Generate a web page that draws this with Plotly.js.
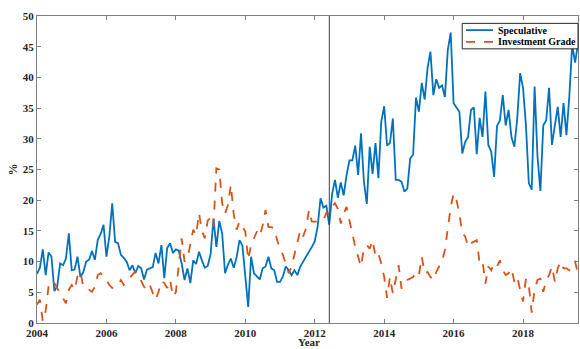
<!DOCTYPE html>
<html>
<head>
<meta charset="utf-8">
<script src="https://cdn.plot.ly/plotly-3.0.1.min.js"></script>
<style>
html,body{margin:0;padding:0;background:#fff;}
#chart{width:580px;height:349px;}
</style>
</head>
<body>
<div id="chart"></div>
<script>
// Monthly observations, Jan 2004 .. Aug 2019
const startYear = 2004;
const speculative = [
  // 2004
  8, 9, 12, 7.8, 11.5, 10.8, 5.2, 6, 9.7, 9.4, 10.5, 14.6,
  // 2005
  8.6, 8.7, 10.8, 7.5, 8.3, 10, 10.3, 11.7, 10.3, 13.5, 14.5, 16,
  // 2006
  10.8, 14.1, 19.5, 13.2, 13, 11.1, 10.6, 10, 8.6, 9.4, 8.1, 9.3,
  // 2007
  8.9, 7.1, 8.7, 8.9, 9.1, 11.4, 9.7, 12.7, 7.3, 12.2, 13, 11.4,
  // 2008
  12, 11.8, 9.7, 7, 8.9, 6.5, 10.2, 9.6, 11.6, 10.2, 9, 9.3,
  // 2009
  11.2, 17, 12.4, 16.6, 14.6, 8.1, 9.5, 10.5, 9, 10.7, 13.5, 12.6,
  // 2010
  8, 2.6, 10.8, 8.1, 7.6, 7.1, 8.9, 9.2, 10.8, 8.9, 8.6, 6.7,
  // 2011
  6.7, 7.6, 9.2, 8.6, 7.8, 8.6, 7.8, 9.2, 10, 10.8, 11.4, 12.4,
  // 2012
  13.3, 15.7, 20.3, 18.8, 19.1, 16, 21, 23.3, 20.4, 22.9, 20.8, 24.1,
  // 2013
  26.5, 26.5, 28.9, 24.1, 30.9, 23, 19.4, 28.7, 24.3, 29.3, 23.6, 32.8,
  // 2014
  35.3, 28.9, 29.3, 33.3, 23.3, 23.3, 23, 21.4, 21.9, 26.8, 27.4, 36.7,
  // 2015
  34.4, 39.1, 36.4, 41.5, 44.2, 37.1, 39.7, 38.3, 38.7, 36.8, 44.5, 47.3,
  // 2016
  35.8, 35, 34.4, 27.6, 29.5, 30.3, 34.7, 35.1, 27.5, 33.4, 30.3, 37.7,
  // 2017
  29, 27.9, 23.8, 32.1, 33, 37.1, 32.2, 34.7, 30.3, 28.7, 33.3, 40.7,
  // 2018
  38.3, 32.2, 22.8, 21.7, 38.5, 27.1, 21.5, 32.2, 33, 38.3, 29, 32.2,
  // 2019
  35.2, 30.3, 35.8, 30.6, 36.9, 45.3, 42.4, 45.6
];
const investmentGrade = [
  // 2004
  3, 3.8, 0.3, 2, 6, 6.8, 6.5, 5.7, 4.9, 4.1, 3.2, 5.4,
  // 2005
  6.2, 5.4, 7.6, 8.4, 5.9, 5.5, 5.4, 5.1, 5.9, 7.8, 8.1, 7.6,
  // 2006
  7, 6.2, 5.7, 5.9, 6.2, 7, 6.2, 6.8, 7.3, 7.8, 8.4, 7.8,
  // 2007
  6.8, 5.9, 5.4, 6.2, 4.9, 3.8, 5.1, 6.8, 6.5, 5.7, 7, 4.3,
  // 2008
  5, 9, 13.8, 10, 10.5, 12.8, 15.2, 14.3, 17.9, 15, 13.8, 16.7,
  // 2009
  17.1, 15.7, 25.2, 25, 19.5, 17.8, 19.2, 22.5, 17.7, 15.2, 16.5, 15.7,
  // 2010
  14.9, 10.3, 12.7, 13.8, 14.9, 14.1, 15.9, 18.4, 15.6, 15.6, 15.4, 13.5,
  // 2011
  12.1, 11.1, 9.7, 8.1, 9.2, 11.1, 12.7, 15.1, 14.1, 15.4, 18.4, 16.5,
  // 2012
  16.5, 16.5, 16.8, 16.8, 17.9, 17.8, 19, 19.5, 18.6, 16.2, 17.8, 18.9,
  // 2013
  16.7, 14.3, 12.4, 10.8, 9.2, 12.1, 12.7, 12.1, 13.5, 10.8, 11.3, 9.7,
  // 2014
  7.5, 4.1, 7.5, 4.8, 7, 9.4, 5.6, 6.7, 7, 7.2, 7.5, 8.3,
  // 2015
  7.8, 10.8, 8.1, 8.3, 7.5, 7, 8.3, 9.2, 10, 11.9, 15.1, 18.9,
  // 2016
  21.1, 20, 17.8, 14.6, 14.1, 12.4, 13, 13.3, 13.5, 9.7, 10, 6.4,
  // 2017
  9.2, 8.6, 9.7, 9.2, 10.2, 8.6, 7.8, 8.1, 8.9, 6.7, 7.5, 5.4,
  // 2018
  3.5, 7.2, 6.1, 1.7, 5.4, 7, 7.2, 5.1, 7, 7.8, 9.2, 6.7,
  // 2019
  8.9, 10, 8.9, 8.9, 8.6, 9.7, 10, 8
];
const seriesNames = ['Speculative', 'Investment Grade'];
const seriesColors = ['#0072BD', '#D95319'];
const xTickVals = [2004, 2006, 2008, 2010, 2012, 2014, 2016, 2018];
const yTickVals = [0, 5, 10, 15, 20, 25, 30, 35, 40, 45, 50];
const xAxisTitle = 'Year';
const yAxisTitle = '%';
const breakDate = 2012.42;

const dates = speculative.map((_, i) => startYear + i / 12);
const datesIG = investmentGrade.map((_, i) => startYear + i / 12);

const fontFam = '"Liberation Serif", "Times New Roman", serif';

const traces = [
  {x: dates, y: speculative, name: seriesNames[0], type: 'scatter', mode: 'lines',
   line: {color: seriesColors[0], width: 1.8}, showlegend: false},
  {x: datesIG, y: investmentGrade, name: seriesNames[1], type: 'scatter', mode: 'lines',
   line: {color: seriesColors[1], width: 1.8, dash: 'dash'}, showlegend: false}
];

const axisCommon = {
  showgrid: false, zeroline: false, showline: true, mirror: 'ticks',
  linecolor: '#808080', linewidth: 1, ticks: 'inside', ticklen: 4,
  tickcolor: '#808080', tickfont: {family: fontFam, size: 11, color: '#262626', weight: 'bold'}
};

// Legend drawn in paper coordinates (box, line samples, labels)
const legBox = {x0: 0.786, x1: 1.0, y0: 0.893, y1: 0.976};
const legRows = [0.954, 0.916];
const legLineX = [0.793, 0.843];
const legTextX = 0.848;
const legendShapes = [
  {type: 'rect', xref: 'paper', yref: 'paper', x0: legBox.x0, x1: legBox.x1, y0: legBox.y0, y1: legBox.y1,
   line: {color: '#262626', width: 1}, fillcolor: '#ffffff', layer: 'above'}
].concat(seriesNames.map((n, i) => ({
  type: 'line', xref: 'paper', yref: 'paper', x0: legLineX[0], x1: legLineX[1], y0: legRows[i], y1: legRows[i],
  line: {color: seriesColors[i], width: 1.8, dash: i === 1 ? 'dash' : 'solid'}, layer: 'above'
})));
const legendAnnotations = seriesNames.map((n, i) => ({
  xref: 'paper', yref: 'paper', x: legTextX, y: legRows[i], xanchor: 'left', yanchor: 'middle',
  text: '<b>' + n + '</b>', showarrow: false,
  font: {family: fontFam, size: 10, color: '#000'}
}));
// x-axis title as a paper annotation at the bottom edge of the page
const xTitleAnnotation = {
  xref: 'paper', yref: 'paper', x: 0.503, y: -0.0847, xanchor: 'center', yanchor: 'bottom',
  text: '<b>' + xAxisTitle + '</b>', showarrow: false, borderpad: 0,
  font: {family: fontFam, size: 11, color: '#262626'}
};

const layout = {
  width: 580, height: 349,
  margin: {l: 37, r: 2, t: 16, b: 26},
  paper_bgcolor: '#fff', plot_bgcolor: '#fff',
  font: {family: fontFam, color: '#262626'},
  showlegend: false,
  xaxis: Object.assign({}, axisCommon, {
    range: [startYear, startYear + (speculative.length - 1) / 12],
    tickvals: xTickVals, ticktext: xTickVals.map(String)
  }),
  yaxis: Object.assign({}, axisCommon, {
    range: [0, 50], tickvals: yTickVals, ticktext: yTickVals.map(String),
    title: {text: yAxisTitle, font: {family: fontFam, size: 12, weight: 'bold', color: '#262626'}, standoff: 2}
  }),
  shapes: [{
    type: 'line', xref: 'x', yref: 'paper', x0: breakDate, x1: breakDate, y0: 0, y1: 1,
    line: {color: '#404040', width: 1}
  }].concat(legendShapes),
  annotations: legendAnnotations.concat([xTitleAnnotation])
};

Plotly.newPlot('chart', traces, layout, {displayModeBar: false, staticPlot: true});
</script>
</body>
</html>
